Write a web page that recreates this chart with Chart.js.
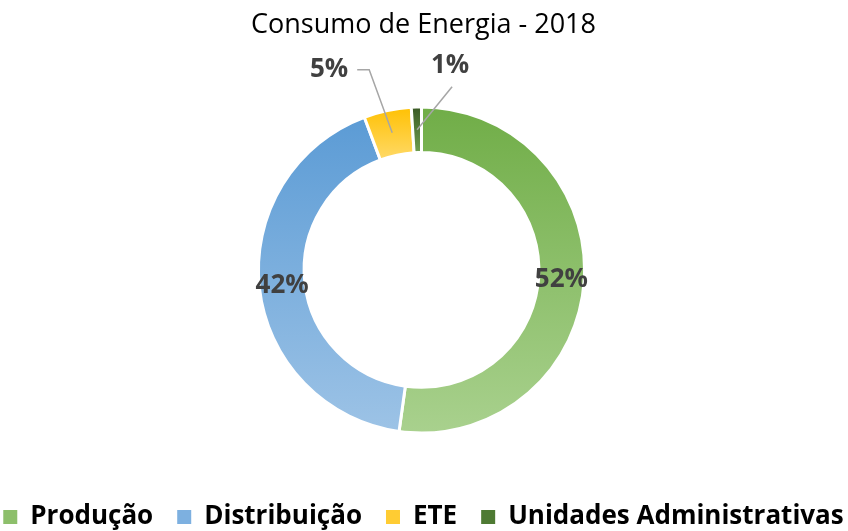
<!DOCTYPE html>
<html>
<head>
<meta charset="utf-8">
<script src="https://cdn.jsdelivr.net/npm/chart.js@4.4.0/dist/chart.umd.min.js"></script>
<style>
  html, body { margin: 0; padding: 0; background: #fff; }
  #wrap { width: 848px; height: 531px; }
</style>
</head>
<body>
<div id="wrap"><canvas id="myDoughnut"></canvas></div>
<script>
// data
const labels = ['Produção', 'Distribuição', 'ETE', 'Unidades Administrativas'];
const consumo = [52.2, 42.1, 4.7, 1.0];
const chartTitle = 'Consumo de Energia - 2018';

// styles
const gradTop = ['#70ad47', '#5b9bd5', '#ffc000', '#385723'];
const gradBottom = ['#a9d18e', '#9dc3e6', '#ffd966', '#6f9e4f'];
const legendColors = ['#8dbf6b', '#7db0e0', '#ffcc33', '#4e7a33'];
const cutoutPct = 0.72;

// callouts for the small slices (offsets from the slice middle)
const callouts = [null, null, {dx: -23, dy: -63, arm: -12}, {dx: 35, dy: -43, arm: 0}];

const total = consumo.reduce((a, b) => a + b, 0);

function sliceGradient(ctx) {
    const chart = ctx.chart;
    const area = chart.chartArea;
    const i = ctx.dataIndex;
    if (!area || i === undefined) return gradTop[i || 0];
    let before = 0;
    for (let k = 0; k < i; k++) before += consumo[k];
    const a0 = -Math.PI / 2 + before / total * 2 * Math.PI;
    const a1 = a0 + consumo[i] / total * 2 * Math.PI;
    const cy = (area.top + area.bottom) / 2;
    const R = Math.min(area.width, area.height) / 2;
    const r = R * cutoutPct;
    const ys = [];
    [a0, a1].forEach(a => { ys.push(cy + R * Math.sin(a), cy + r * Math.sin(a)); });
    if (a0 <= -Math.PI / 2 + 1e-6 || a1 >= 1.5 * Math.PI - 1e-6) ys.push(cy - R);
    if (a0 <= Math.PI / 2 && a1 >= Math.PI / 2) ys.push(cy + R);
    const g = chart.ctx.createLinearGradient(0, Math.min(...ys), 0, Math.max(...ys));
    g.addColorStop(0, gradTop[i]);
    g.addColorStop(1, gradBottom[i]);
    return g;
}

// nudge the ring a little to the left of the canvas centre
const shiftArea = {
    id: 'shiftArea',
    afterLayout(chart) {
        chart.chartArea.right -= 5;
        chart.chartArea.width = chart.chartArea.right - chart.chartArea.left;
    }
};

const pctLabels = {
    id: 'pctLabels',
    afterDatasetsDraw(chart) {
        const ctx = chart.ctx;
        const meta = chart.getDatasetMeta(0);
        ctx.save();
        ctx.font = 'bold 26px "Open Sans"';
        ctx.fillStyle = '#404040';
        ctx.strokeStyle = '#a6a6a6';
        ctx.lineWidth = 1.5;
        meta.data.forEach((arc, i) => {
            const p = arc.tooltipPosition();
            const txt = Math.round(consumo[i] / total * 100) + '%';
            const c = callouts[i];
            if (!c) {
                ctx.textAlign = 'center';
                ctx.textBaseline = 'middle';
                ctx.fillText(txt, p.x, p.y);
                return;
            }
            const ex = p.x + c.dx, ey = p.y + c.dy;
            ctx.beginPath();
            ctx.moveTo(p.x, p.y);
            ctx.lineTo(ex, ey);
            if (c.arm) ctx.lineTo(ex + c.arm, ey);
            ctx.stroke();
            if (c.arm) {
                ctx.textAlign = 'right';
                ctx.textBaseline = 'middle';
                ctx.fillText(txt, ex + c.arm - 9, ey);
            } else {
                ctx.textAlign = 'center';
                ctx.textBaseline = 'middle';
                ctx.fillText(txt, ex - 2, ey - 21);
            }
        });
        ctx.restore();
    }
};

const config = {
    type: 'doughnut',
    data: {
        labels: labels,
        datasets: [{
            data: consumo,
            backgroundColor: sliceGradient,
            borderColor: '#ffffff',
            borderWidth: 3,
            hoverOffset: 0
        }]
    },
    options: {
        responsive: true,
        maintainAspectRatio: false,
        animation: false,
        cutout: (cutoutPct * 100) + '%',
        layout: {
            padding: {top: 0, left: -28, right: -27, bottom: -9}
        },
        plugins: {
            title: {
                display: true,
                text: chartTitle,
                color: '#000000',
                font: {family: '"Open Sans"', size: 27, weight: 'normal'},
                padding: {top: 9, bottom: 64}
            },
            legend: {
                position: 'bottom',
                title: {
                    display: true,
                    text: ' ',
                    font: {size: 10},
                    padding: {top: 0, bottom: 33.5}
                },
                labels: {
                    color: '#000000',
                    font: {family: '"Open Sans"', size: 26, weight: 'bold'},
                    boxWidth: 14,
                    boxHeight: 14,
                    padding: 24,
                    generateLabels(chart) {
                        return labels.map((t, i) => ({
                            text: t,
                            fillStyle: legendColors[i],
                            strokeStyle: legendColors[i],
                            fontColor: '#000000',
                            lineWidth: 0,
                            hidden: false,
                            index: i
                        }));
                    }
                }
            },
            tooltip: {enabled: false}
        }
    },
    plugins: [shiftArea, pctLabels]
};

const myDoughnut = new Chart(document.getElementById('myDoughnut'), config);
</script>
</body>
</html>
